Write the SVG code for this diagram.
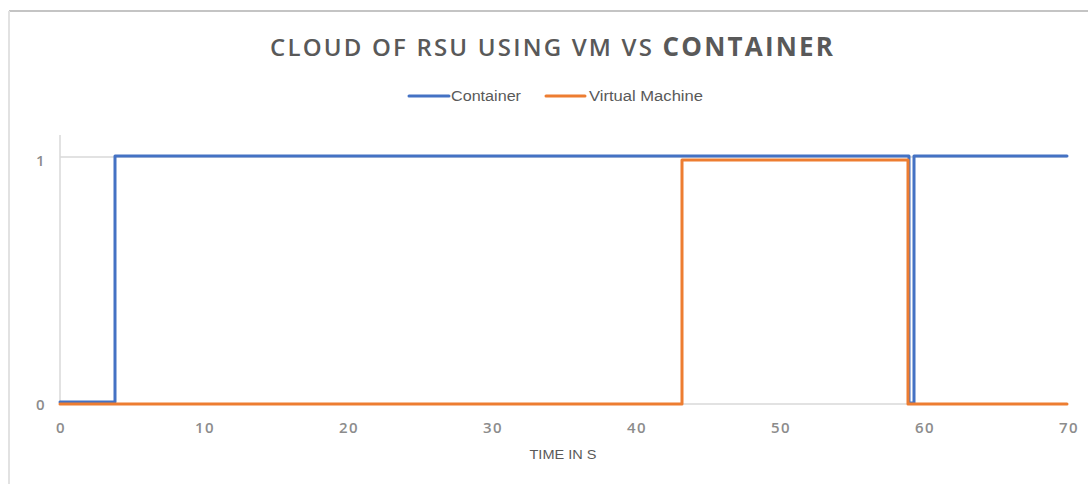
<svg xmlns="http://www.w3.org/2000/svg" width="1088" height="484" viewBox="0 0 1088 484">
  <style>
    .frame { stroke: #d0d0d0; stroke-width: 2; fill: none; }
    .grid { stroke: #d9d9d9; stroke-width: 1.5; fill: none; }
    .title { font-family: "Open Sans", "Liberation Sans", sans-serif; font-weight: 600; fill: #595959; }
    .legend { font-family: "Liberation Sans", "DejaVu Sans", sans-serif; font-size: 14px; fill: #595959; }
    .tick { font-family: "Open Sans", "Liberation Sans", sans-serif; font-size: 15px; font-weight: 600; fill: #8c8c8c; text-anchor: middle; letter-spacing: 1.5px; }
    .axis-title { font-family: "Liberation Sans", "DejaVu Sans", sans-serif; font-size: 12px; fill: #595959; text-anchor: middle; }
    .container { stroke: #4472c4; stroke-width: 3; fill: none; stroke-linejoin: round; stroke-linecap: round; }
    .vm { stroke: #ed7d31; stroke-width: 3; fill: none; stroke-linejoin: round; stroke-linecap: round; }
  </style>

  <rect width="1088" height="484" fill="#ffffff"/>

  <!-- chart frame -->
  <g id="frame">
    <line class="frame" x1="9" y1="11" x2="1088" y2="11" style="stroke:#c4c4c4"/>
    <line class="frame" x1="9" y1="11" x2="9" y2="484" style="stroke:#e2e2e2"/>
  </g>

  <!-- title -->
  <g id="title">
    <text class="title" x="270" y="56" font-size="24" textLength="563" lengthAdjust="spacing">CLOUD OF RSU USING VM VS <tspan font-size="26" font-weight="700">CONTAINER</tspan></text>
  </g>

  <!-- legend -->
  <g id="legend">
    <line class="container" x1="409" y1="96" x2="449" y2="96"/>
    <text class="legend" x="451" y="101" textLength="70" lengthAdjust="spacingAndGlyphs">Container</text>
    <line class="vm" x1="546" y1="96" x2="585" y2="96"/>
    <text class="legend" x="589" y="101" textLength="114" lengthAdjust="spacingAndGlyphs">Virtual Machine</text>
  </g>

  <!-- axes and gridlines -->
  <g id="axes">
    <line class="grid" x1="60" y1="135" x2="60" y2="404"/>
    <line class="grid" x1="60" y1="157" x2="1067" y2="157"/>
    <line class="grid" x1="60" y1="404" x2="1067" y2="404"/>
    <text class="tick" x="41" y="166">1</text>
    <text class="tick" x="41" y="410">0</text>
    <text class="tick" x="61" y="433">0</text>
    <text class="tick" x="205" y="433">10</text>
    <text class="tick" x="349" y="433">20</text>
    <text class="tick" x="493" y="433">30</text>
    <text class="tick" x="637" y="433">40</text>
    <text class="tick" x="781" y="433">50</text>
    <text class="tick" x="925" y="433">60</text>
    <text class="tick" x="1069" y="433">70</text>
    <text class="axis-title" x="563" y="459" textLength="67" lengthAdjust="spacingAndGlyphs">TIME IN S</text>
  </g>

  <!-- data series -->
  <g id="connectors">
    <path id="series-container" class="container" d="M60,402 H115 V156 H909 V403 H914 V156 H1067"/>
    <path id="series-vm" class="vm" d="M60,404 H682 V160 H908 V404 H1067"/>
  </g>
</svg>
